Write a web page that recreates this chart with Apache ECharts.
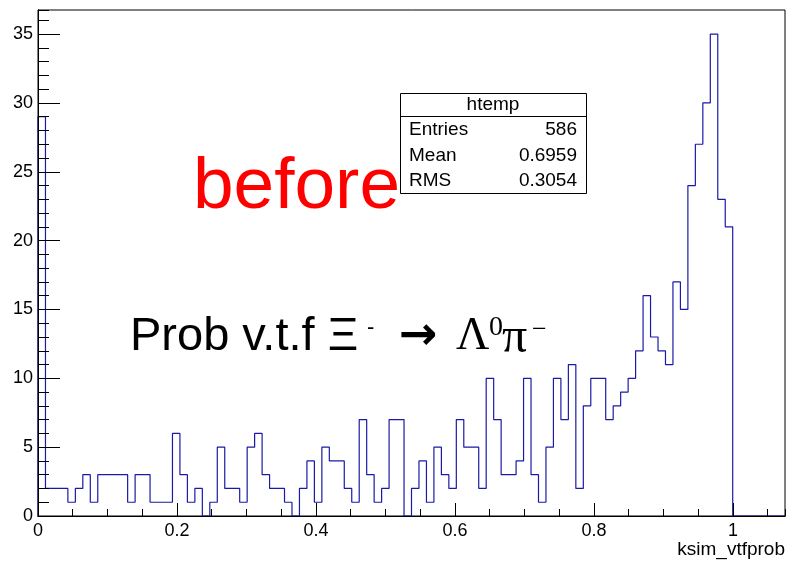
<!DOCTYPE html>
<html>
<head>
<meta charset="utf-8">
<script src="https://cdn.jsdelivr.net/npm/echarts@6/dist/echarts.min.js"></script>
<style>
html, body { margin: 0; padding: 0; background: #fff; }
#main { width: 786px; height: 561px; }
</style>
</head>
<body>
<div id="main"></div>
<script>
// histogram range / binning (htemp)
var xMin = 0;
var xMax = 1.075;
var nBins = 100;
var yMax = 36.75;

// entries per bin
var binCounts = [
	29, 2, 2, 2, 1, 2, 3, 1, 3, 3,
	3, 3, 1, 3, 3, 1, 1, 1, 6, 3,
	1, 2, 0, 1, 5, 2, 2, 1, 5, 6,
	3, 2, 2, 1, 0, 2, 4, 1, 5, 4,
	4, 2, 1, 7, 3, 1, 2, 7, 7, 0,
	2, 4, 1, 5, 3, 2, 7, 5, 5, 2,
	10, 7, 3, 3, 4, 10, 3, 1, 5, 10,
	7, 11, 2, 8, 10, 10, 7, 8, 9, 10,
	12, 16, 13, 12, 11, 17, 15, 24, 27, 30,
	35, 23, 21, 0, 0, 0, 0, 0, 0, 0
];

// tick steps
var xMajor = 0.2, xMinor = 0.05;
var yMajor = 5, yMinor = 1;

// stats box
var statsTitle = 'htemp';
var statsLabels = ['Entries', 'Mean', 'RMS'];
var statsValues = ['586', '0.6959', '0.3054'];

var xTitle = 'ksim_vtfprob';

var binWidth = (xMax - xMin) / nBins;
var stepData = [[xMin, 0]];
for (var i = 0; i < nBins; i++) {
	stepData.push([xMin + i * binWidth, binCounts[i]]);
}
stepData.push([xMax, binCounts[nBins - 1]]);

var font = '"Liberation Sans", Arial, Helvetica, sans-serif';
var serif = '"Liberation Serif", "Times New Roman", serif';

function axisX(interval, tickLen, withLabel) {
	return {
		type: 'value', min: xMin, max: xMax, interval: interval,
		position: 'bottom', z: 5,
		axisLine: { show: true, onZero: false, lineStyle: { color: '#000', width: 1 } },
		axisTick: { show: true, inside: true, length: tickLen, lineStyle: { color: '#000', width: 1 } },
		axisLabel: {
			show: withLabel, showMaxLabel: false, color: '#000',
			fontFamily: font, fontSize: 18, margin: 6
		},
		splitLine: { show: false }
	};
}
function axisY(interval, tickLen, withLabel) {
	return {
		type: 'value', min: 0, max: yMax, interval: interval,
		position: 'left', z: 5,
		axisLine: { show: true, onZero: false, lineStyle: { color: '#000', width: 1 } },
		axisTick: { show: true, inside: true, length: tickLen, lineStyle: { color: '#000', width: 1 } },
		axisLabel: {
			show: withLabel, showMaxLabel: false, color: '#000',
			fontFamily: font, fontSize: 18, margin: 5
		},
		splitLine: { show: false }
	};
}

var graphics = [
	{ type: 'text', left: 193, top: 151, silent: true,
	  style: { text: 'before', fill: '#ff0000', font: '73px ' + font } },
	{ type: 'text', left: 130, top: 314, silent: true,
	  style: { text: 'Prob v.t.f \u039E', fill: '#000', font: '47px ' + font } },
	{ type: 'text', left: 367, top: 317, silent: true,
	  style: { text: '-', fill: '#000', font: '22px ' + font } },
	{ type: 'text', left: 399, top: 314, silent: true,
	  style: { text: '\u2192', fill: '#000', font: 'bold 46px "DejaVu Sans", sans-serif' } },
	{ type: 'text', left: 456, top: 314, silent: true,
	  style: { text: '\u039B', fill: '#000', font: '46px ' + serif } },
	{ type: 'text', left: 489, top: 314, silent: true,
	  style: { text: '0', fill: '#000', font: '28px ' + serif } },
	{ type: 'text', left: 502, top: 314, silent: true,
	  style: { text: '\u03C0', fill: '#000', font: '50px ' + serif } },
	{ type: 'text', left: 532, top: 317, silent: true,
	  style: { text: '\u2212', fill: '#000', font: '26px ' + serif } },
	// stats box
	{ type: 'rect', shape: { x: 400.5, y: 93.5, width: 186, height: 100 }, silent: true,
	  style: { fill: '#fff', stroke: '#000', lineWidth: 1 }, z: 10 },
	{ type: 'line', shape: { x1: 400.5, y1: 116.5, x2: 586.5, y2: 116.5 }, silent: true,
	  style: { stroke: '#000', lineWidth: 1 }, z: 10 },
	{ type: 'text', x: 493, y: 105, silent: true, z: 11,
	  style: { text: statsTitle, fill: '#000', font: '19px ' + font, textAlign: 'center', textVerticalAlign: 'middle' } },
	// x axis title
	{ type: 'text', x: 785, y: 550, silent: true, z: 11,
	  style: { text: xTitle, fill: '#000', font: '19px ' + font, textAlign: 'right', textVerticalAlign: 'middle' } }
];
for (var k = 0; k < statsLabels.length; k++) {
	graphics.push({ type: 'text', x: 409, y: 130 + k * 25.5, silent: true, z: 11,
		style: { text: statsLabels[k], fill: '#000', font: '19px ' + font, textVerticalAlign: 'middle' } });
	graphics.push({ type: 'text', x: 577, y: 130 + k * 25.5, silent: true, z: 11,
		style: { text: statsValues[k], fill: '#000', font: '19px ' + font, textAlign: 'right', textVerticalAlign: 'middle' } });
}

var option = {
	animation: false,
	backgroundColor: '#fff',
	grid: {
		left: 38, right: 1, top: 10, bottom: 45,
		show: true, borderColor: '#000', borderWidth: 1, backgroundColor: 'transparent'
	},
	xAxis: [axisX(xMajor, 13, true), axisX(xMinor, 7, false)],
	yAxis: [axisY(yMajor, 22, true), axisY(yMinor, 11, false)],
	series: [{
		type: 'line',
		step: 'end',
		xAxisIndex: 0,
		yAxisIndex: 0,
		data: stepData,
		symbol: 'none',
		z: 2,
		lineStyle: { color: '#1a1aa6', width: 1.2 }
	}],
	graphic: graphics
};

var myChart = echarts.init(document.getElementById('main'), null, { renderer: 'canvas' });
myChart.setOption(option);
</script>
</body>
</html>
